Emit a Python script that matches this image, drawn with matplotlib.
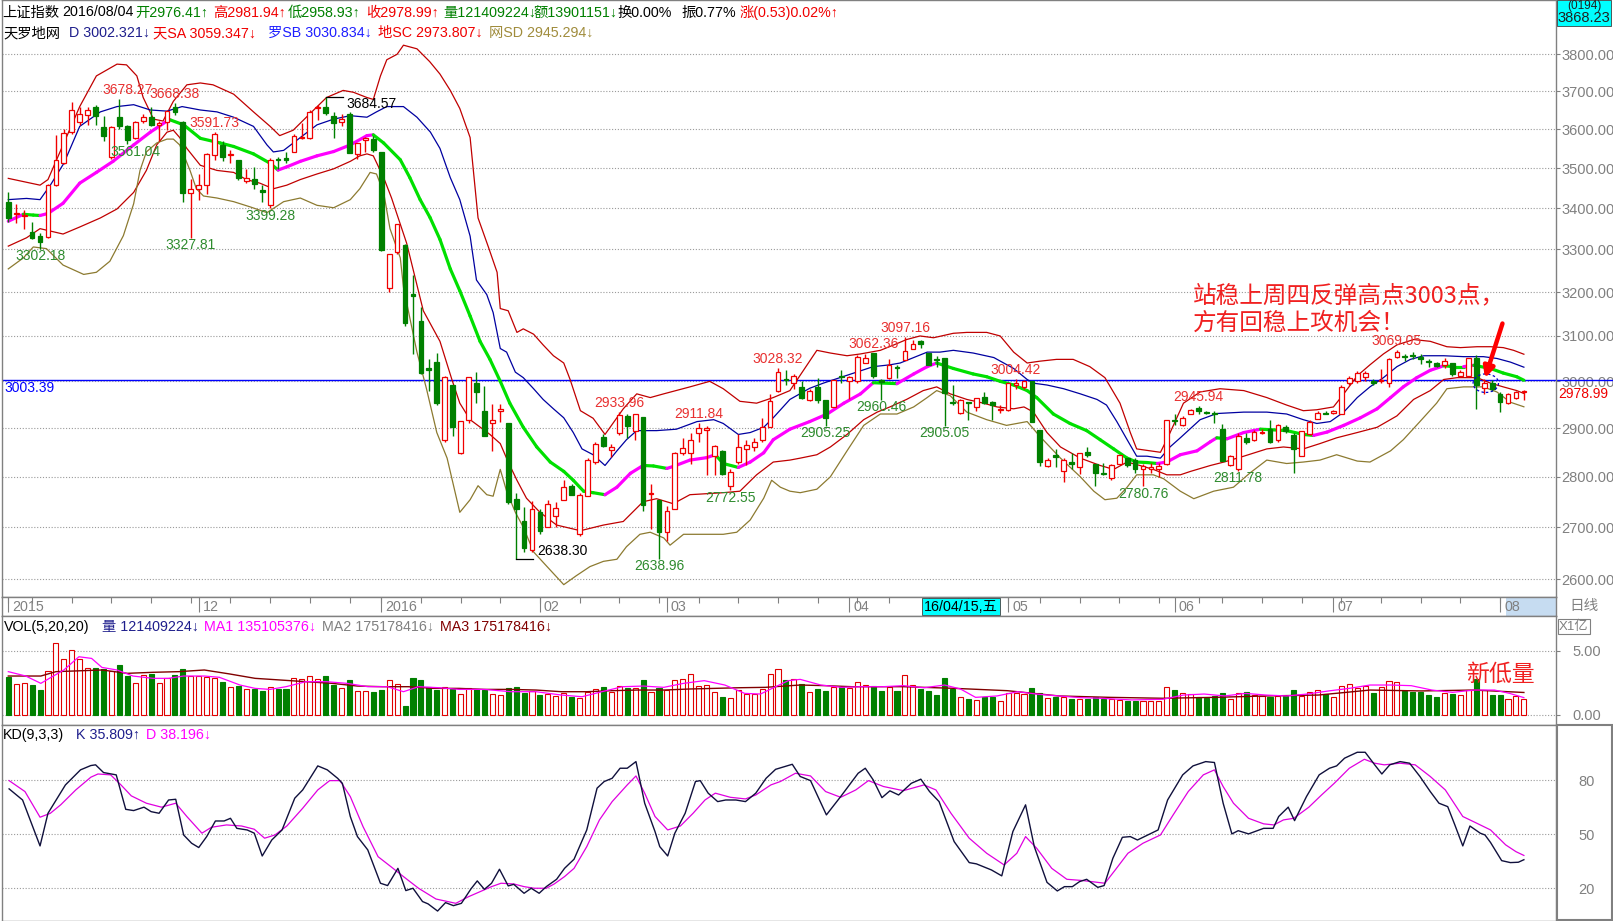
import matplotlib
matplotlib.use("Agg")
import matplotlib.pyplot as plt
from matplotlib.collections import LineCollection
from matplotlib.patches import Rectangle, Ellipse
from matplotlib.ticker import NullLocator
import numpy as np
import pandas as pd

plt.rcParams['font.family'] = ['Liberation Sans', 'Noto Sans CJK SC', 'DejaVu Sans']
CJK = ['Noto Sans CJK SC', 'DejaVu Sans']

# ---------------- data ----------------
holidays = ['2016-01-01', '2016-02-08', '2016-02-09', '2016-02-10', '2016-02-11',
            '2016-02-12', '2016-04-04', '2016-05-02', '2016-06-09', '2016-06-10']
trade_days = pd.bdate_range('2015-10-28', '2016-08-04')
trade_days = trade_days[~trade_days.isin(pd.to_datetime(holidays))]

opens = [3416, 3385, 3380, 3341, 3332, 3330, 3458, 3514, 3592, 3619, 3638, 3657, 3605, 3527, 3632, 3608,
         3577, 3622, 3632, 3611, 3618, 3659, 3618, 3438, 3448, 3457, 3532, 3559, 3533, 3521, 3467, 3472,
         3445, 3407, 3522, 3526, 3540, 3576, 3578, 3654, 3659, 3633, 3618, 3640, 3536, 3571, 3574, 3541,
         3209, 3293, 3310, 3196, 3134, 3028, 3042, 2876, 2991, 2849, 2918, 2996, 2936, 2912, 2936, 2910,
         2756, 2711, 2656, 2730, 2700, 2721, 2754, 2782, 2686, 2762, 2830, 2881, 2855, 2891, 2925, 2895,
         2923, 2765, 2754, 2690, 2735, 2849, 2849, 2891, 2897, 2843, 2852, 2782, 2830, 2856, 2861, 2876,
         2903, 2980, 3005, 2996, 2988, 2959, 2988, 2959, 2945, 3011, 3000, 3000, 3041, 3061, 3002, 3008,
         3032, 3047, 3072, 3088, 3062, 3049, 3052, 2956, 2933, 2955, 2945, 2967, 2955, 2939, 2938, 2991,
         2988, 3000, 2897, 2822, 2845, 2811, 2830, 2819, 2850, 2826, 2807, 2797, 2826, 2838, 2834, 2816,
         2816, 2816, 2826, 2918, 2906, 2930, 2942, 2934, 2932, 2898, 2824, 2815, 2880, 2876, 2889, 2898,
         2876, 2902, 2885, 2842, 2887, 2920, 2933, 2932, 2930, 2996, 3000, 3010, 3000, 3001, 2996, 3054,
         3055, 3058, 3053, 3045, 3040, 3036, 3040, 3012, 3012, 3052, 2986, 2996, 2973, 2953, 2965, 2976.41]
highs = [3440, 3410, 3395, 3367, 3340, 3460, 3585, 3600, 3672, 3657, 3657, 3662, 3633, 3607, 3678.27, 3610,
         3620, 3639, 3657, 3622, 3650, 3668.38, 3622, 3472, 3485, 3539, 3591.73, 3570, 3545, 3521, 3498, 3503,
         3457, 3525, 3528, 3540, 3588, 3617, 3650, 3662, 3684.57, 3645, 3640, 3645, 3564, 3580, 3583, 3541,
         3289, 3362, 3312, 3240, 3166, 3048, 3062, 3011, 2992, 2916, 3010, 3020, 2990, 2952, 2952, 2910,
         2768, 2739, 2752, 2735, 2753, 2749, 2793, 2786, 2768, 2838, 2872, 2887, 2868, 2933.96, 2929, 2930,
         2923, 2786, 2754, 2742, 2851, 2880, 2891, 2911.84, 2905, 2866, 2854, 2815, 2887, 2876, 2880, 2922,
         2973, 3028.32, 3024, 3016, 3000, 2984, 3008, 2959, 3002, 3024, 3012, 3057, 3059, 3062.36, 3004, 3048,
         3036, 3097.16, 3090, 3092, 3062, 3055, 3052, 2992, 2961, 2956, 2965, 2977, 2957, 2949, 2997, 3004.42,
         3002, 3000, 2897, 2839, 2857, 2838, 2849, 2849, 2860, 2826, 2829, 2826, 2845, 2838, 2838, 2826,
         2829, 2829, 2917, 2930, 2926, 2940, 2945.94, 2937, 2936, 2909, 2845, 2891, 2891, 2897, 2898, 2917,
         2908, 2906, 2891, 2895, 2918, 2937, 2937, 2939, 2992, 3012, 3022, 3022, 3004, 3026, 3052, 3069.05,
         3059, 3064, 3059, 3048, 3043, 3052, 3041, 3024, 3052, 3058, 3004, 3002, 2978, 2975, 2980, 2981.94]
lows = [3367, 3363, 3350, 3324, 3302.18, 3327, 3455, 3510, 3588, 3610, 3610, 3610, 3568, 3522, 3601, 3561.04,
        3574, 3615, 3607, 3570, 3597, 3636, 3416, 3327.81, 3421, 3434, 3520, 3517, 3512, 3471, 3463, 3448,
        3416, 3399.28, 3498, 3512, 3540, 3574, 3575, 3624, 3638, 3578, 3607, 3538, 3522, 3540, 3540, 3297,
        3200, 3290, 3122, 3060, 3017, 2980, 2950, 2872, 2883, 2846, 2910, 2953, 2884, 2853, 2914, 2746,
        2638.30, 2652, 2652, 2686, 2700, 2700, 2754, 2763, 2683, 2762, 2826, 2860, 2841, 2885, 2880, 2876,
        2732, 2697, 2638.96, 2673, 2735, 2845, 2826, 2872, 2804, 2803, 2804, 2772.55, 2826, 2823, 2853, 2872,
        2903, 2976, 2992, 2984, 2961, 2957, 2953, 2905.25, 2945, 2996, 2961, 2996, 3039, 3008, 2960.46, 3004,
        3008, 3047, 3070, 3074, 3036, 3032, 2905.05, 2949, 2930, 2918, 2937, 2952, 2918, 2933, 2937, 2984,
        2984, 2913, 2822, 2819, 2820, 2790, 2815, 2806, 2841, 2782, 2804, 2793, 2826, 2819, 2807, 2780.76,
        2807, 2800, 2824, 2907, 2904, 2929, 2929, 2929, 2911, 2833, 2822, 2811.78, 2868, 2874, 2887, 2870,
        2872, 2891, 2807, 2842, 2885, 2920, 2929, 2929, 2929, 2992, 2996, 3000, 2992, 2996, 2988, 3052,
        3045, 3048, 3038, 3032, 3032, 3030, 3012, 3010, 3010, 2941, 2973, 2980, 2934, 2952, 2961, 2958.93]
closes = [3376, 3389, 3384, 3328, 3319, 3458, 3521, 3591, 3651, 3640, 3650, 3633, 3583, 3606, 3608, 3571,
          3618, 3632, 3611, 3617, 3648, 3645, 3438, 3447, 3457, 3537, 3586, 3529, 3537, 3475, 3476, 3459,
          3439, 3521, 3520, 3521, 3583, 3580, 3645, 3659, 3643, 3616, 3627, 3538, 3564, 3576, 3545, 3299,
          3289, 3362, 3130, 3190, 3018, 3024, 2953, 3010, 2902, 2915, 3010, 2978, 2884, 2918, 2940, 2749,
          2736, 2659, 2735, 2693, 2746, 2737, 2780, 2764, 2764, 2834, 2867, 2864, 2860, 2927, 2904, 2930,
          2743, 2768, 2690, 2731, 2849, 2859, 2875, 2900, 2900, 2862, 2806, 2809, 2860, 2866, 2872, 2903,
          2957, 3020, 3002, 3012, 2965, 2980, 2959, 2921, 3002, 3009, 3009, 3053, 3051, 3011, 2999, 3035,
          3028, 3066, 3082, 3081, 3036, 3047, 2975, 2954, 2959, 2953, 2965, 2953, 2949, 2941, 2996, 2996,
          3000, 2914, 2831, 2834, 2841, 2834, 2826, 2849, 2845, 2807, 2806, 2824, 2845, 2823, 2816, 2822,
          2820, 2822, 2917, 2915, 2922, 2938, 2936, 2932, 2929, 2833, 2842, 2883, 2872, 2892, 2892, 2872,
          2906, 2895, 2857, 2895, 2914, 2932, 2931, 2937, 2988, 3008, 3018, 3018, 2996, 3002, 3049, 3064,
          3053, 3056, 3048, 3043, 3034, 3044, 3016, 3020, 3052, 2992, 2996, 2983, 2955, 2973, 2978, 2978.99]
# volume, unit 1e8 (x1亿)
volumes = [2.93, 2.38, 2.46, 2.33, 1.94, 3.42, 5.57, 4.35, 5.05, 4.35, 3.63, 3.65, 3.58, 3.45, 3.89, 3.03,
           2.46, 3.08, 3.19, 2.46, 2.85, 3.11, 3.58, 3.06, 3.06, 2.93, 2.85, 2.59, 2.15, 2.25, 1.99, 2.02,
           1.87, 2.15, 1.99, 1.99, 2.85, 2.77, 3.03, 2.77, 3.03, 2.33, 2.07, 2.72, 1.87, 1.87, 1.81, 1.94,
           2.72, 2.38, 0.70, 2.85, 2.72, 2.20, 1.94, 2.20, 2.02, 1.63, 2.12, 2.02, 1.94, 1.61, 1.55, 2.07,
           2.15, 1.68, 1.87, 1.55, 1.61, 1.48, 1.68, 1.37, 1.30, 1.81, 2.02, 2.20, 1.81, 2.28, 2.07, 2.07,
           2.72, 1.81, 2.12, 1.94, 2.72, 2.77, 3.16, 2.25, 2.33, 1.81, 1.42, 1.30, 1.94, 1.61, 1.61, 1.99,
           3.16, 3.55, 2.72, 2.77, 2.38, 1.76, 2.02, 1.87, 2.15, 2.15, 2.07, 2.54, 2.33, 2.28, 1.87, 2.20,
           1.87, 3.08, 2.33, 1.99, 1.87, 1.55, 2.85, 2.02, 1.37, 1.22, 1.17, 1.37, 1.37, 1.09, 1.68, 1.74,
           1.61, 2.07, 1.74, 1.30, 1.37, 1.42, 1.22, 1.22, 1.22, 1.42, 1.22, 1.22, 1.17, 1.09, 1.09, 1.09,
           1.09, 1.09, 2.15, 1.94, 1.74, 1.63, 1.37, 1.30, 1.48, 1.68, 1.22, 1.68, 1.81, 1.55, 1.50, 1.42,
           1.48, 1.48, 1.94, 1.48, 1.76, 1.94, 1.63, 1.37, 2.25, 2.41, 2.12, 2.28, 1.68, 2.20, 2.67, 2.59,
           1.87, 1.81, 1.81, 1.55, 1.42, 1.68, 1.63, 1.55, 1.94, 2.77, 1.94, 1.55, 1.55, 1.22, 1.48, 1.21]

# 天罗地网 lines at the given bar positions
sa_idx = [0, 4, 5, 6.9, 9, 11.1, 13.7, 14.9, 16.2, 17, 18.3, 19.5, 20.8, 22.5, 24.2, 25.8, 28.4, 30.9, 33,
          34.2, 35.9, 38, 40.1, 42.2, 43.5, 45.2, 46, 46.9, 47.7, 49, 49.8, 51.5, 53.1, 54.4, 55.7, 56.9,
          58.2, 59.2, 60.5, 61.6, 62, 63, 64.1, 64.9, 66.2, 67.4, 68.7, 70, 70.8, 72.1, 73.7, 75.2, 77.5,
          79.2, 80.9, 82.6, 85.9, 88.4, 90.1, 92.2, 94.3, 96.4, 98.5, 101.9, 103.6, 105.7, 107.4, 109.9,
          111.6, 113.2, 114.9, 116.6, 119.1, 120.8, 123.3, 125, 126.7, 128.4, 130, 132.1, 134.2, 136.3,
          138.2, 140.1, 141.4, 142.2, 145.2, 146.2, 148.1, 150.2, 152.7, 155.7, 158.6, 161.1, 163.2, 164.9,
          167, 168.3, 170, 171.6, 173.3, 175, 177.1, 179.2, 181.3, 183, 185.1, 186.8, 188.4, 189.7, 191]
sa_val = [3474, 3457, 3471, 3559, 3659, 3741, 3773, 3771, 3741, 3683, 3626, 3621, 3673, 3717, 3722, 3717,
          3692, 3645, 3607, 3583, 3597, 3640, 3683, 3702, 3697, 3683, 3678, 3741, 3785, 3800, 3825, 3815,
          3780, 3746, 3702, 3654, 3578, 3376, 3306, 3246, 3162, 3157, 3108, 3116, 3104, 3080, 3056, 3040,
          3004, 2937, 2921, 2887, 2941, 2973, 2965, 2973, 2988, 3000, 2984, 2957, 2953, 2965, 2980, 3068,
          3062, 3056, 3060, 3068, 3080, 3092, 3100, 3096, 3106, 3108, 3108, 3100, 3064, 3040, 3044, 3048,
          3048, 3032, 3008, 2953, 2891, 2857, 2850, 2883, 2953, 2977, 2984, 2980, 2965, 2949, 2937, 2939,
          2945, 2973, 3012, 3036, 3060, 3080, 3092, 3088, 3076, 3074, 3076, 3076, 3074, 3068, 3059.347]
sb_idx = [0, 2.3, 4, 5.3, 7, 9, 11.6, 13.7, 15.8, 17.9, 20, 21.9, 24.2, 26.3, 28.4, 30.9, 32.6, 33.4, 34.7,
          36.8, 38.9, 41, 43.1, 45.2, 46.4, 47.7, 49.8, 51.5, 53.2, 54.4, 55.7, 56.9, 58.2, 59, 60.3, 61.1,
          62, 62.8, 63.9, 64.9, 66.2, 67.4, 68.7, 70, 71.2, 72.3, 73.7, 75.2, 76.7, 77.9, 79.2, 81.7, 84.2,
          86.8, 88.9, 90.1, 92, 93.5, 95.2, 96.4, 98.5, 101, 102.7, 104.8, 106.9, 109, 111.1, 112.4, 114.1,
          115.8, 117.4, 119.1, 121.6, 124.2, 126.7, 128.4, 129.2, 130.9, 133, 135.1, 137.2, 138.4, 139.7,
          141, 142.2, 143.5, 145.2, 146.4, 147.7, 150.2, 152.3, 155.7, 158.6, 161.1, 163.2, 164.9, 166.6,
          168.3, 170, 171.6, 173.3, 175, 176.7, 178.4, 180.9, 183.4, 185.9, 187.6, 189.3, 191]
sb_val = [3421, 3424, 3421, 3457, 3512, 3607, 3645, 3659, 3664, 3650, 3647, 3659, 3650, 3645, 3631, 3607,
          3559, 3541, 3545, 3578, 3611, 3626, 3635, 3631, 3645, 3659, 3659, 3631, 3592, 3550, 3476, 3421,
          3332, 3228, 3194, 3153, 3072, 3064, 3020, 3008, 2984, 2961, 2941, 2922, 2891, 2857, 2845, 2823,
          2853, 2876, 2895, 2895, 2898, 2914, 2918, 2910, 2887, 2891, 2902, 2922, 2961, 2985, 2996, 3008,
          3020, 3032, 3036, 3040, 3052, 3064, 3064, 3068, 3062, 3052, 3028, 3004, 2996, 2992, 2984, 2973,
          2961, 2949, 2914, 2876, 2842, 2842, 2838, 2861, 2880, 2918, 2931, 2934, 2934, 2930, 2918, 2910,
          2914, 2934, 2965, 2988, 3008, 3032, 3048, 3056, 3056, 3054, 3054, 3050, 3042, 3030.834]
d_idx = [0, 1.9, 3.15, 4, 5, 6.9, 9, 11.1, 13.2, 15.8, 17.9, 20, 20.4, 22.1, 24.2, 26.7, 28.4, 30.9, 33,
         34, 35.1, 36.8, 38.9, 41, 43.1, 45.2, 46, 47.3, 49.4, 50.6, 51.9, 53.15, 54.4, 55.7, 56.9, 58.2,
         59.45, 60.7, 62, 63.2, 64.9, 66.6, 68.3, 70, 71.2, 72.5, 73.7, 75.2, 76.7, 78.4, 80, 81.3, 83,
         83.8, 85.9, 88, 89.1, 90.1, 92, 93.5, 95.2, 96.4, 98.5, 101, 103.2, 105.3, 107.4, 109, 112, 114.1,
         115.8, 117, 119.1, 121.6, 123.3, 125, 126.7, 128.4, 129.6, 131.7, 133.8, 135.9, 137.6, 139.3, 141,
         142.2, 143.5, 144.8, 146, 147.7, 149.8, 151.5, 152.3, 153.6, 155.7, 157.8, 159, 161.1, 163.2,
         164.5, 166.2, 168.3, 170.4, 172.5, 174.2, 175.8, 177.5, 179.2, 180.9, 182.1, 183.4, 184.7, 186.8,
         188.4, 190.1, 191]
d_val = [3368, 3385, 3383, 3382, 3387, 3412, 3462, 3489, 3517, 3559, 3592, 3621, 3624, 3611, 3576, 3564,
         3555, 3536, 3512, 3495, 3503, 3517, 3531, 3542, 3559, 3583, 3585, 3564, 3521, 3476, 3421, 3377,
         3324, 3254, 3203, 3145, 3088, 3048, 3000, 2953, 2902, 2861, 2830, 2811, 2793, 2771, 2768, 2764,
         2779, 2807, 2823, 2822, 2817, 2821, 2834, 2839, 2845, 2827, 2819, 2830, 2849, 2876, 2898, 2914,
         2930, 2953, 2973, 2997, 2995, 3016, 3032, 3040, 3028, 3016, 3010, 3000, 2992, 2980, 2965, 2930,
         2910, 2895, 2876, 2857, 2838, 2830, 2829, 2827, 2830, 2845, 2853, 2872, 2880, 2878, 2891, 2898,
         2897, 2895, 2887, 2885, 2892, 2906, 2922, 2941, 2965, 2988, 3008, 3024, 3034, 3032, 3032, 3035,
         3028, 3018, 3010, 3002.321]
sc_idx = [0, 2.3, 4, 6.9, 9, 11.6, 13.7, 15.8, 17.4, 18.7, 20, 20.8, 21.6, 22.5, 24.2, 26.3, 28.4, 30,
          31.7, 33.4, 35.1, 36.8, 38.9, 41, 43.1, 44.3, 45.2, 46, 47.3, 48.3, 50.2, 52.3, 54.4, 55.9, 56.9,
          58.2, 60.7, 62, 63, 64.1, 65.3, 67, 69.1, 72.1, 75, 77.5, 80, 81.7, 83.8, 85.9, 90.1, 92.2, 94.3,
          96.4, 98.5, 99.8, 101.9, 103.6, 105.7, 107.8, 109.5, 111.1, 113.2, 115.3, 117, 118.7, 120.8,
          122.9, 124.6, 126.7, 128, 129.2, 130.9, 132.6, 135.1, 137.6, 139.3, 141, 142.6, 144.3, 146, 147.7,
          149, 151.5, 153.2, 155.7, 158.6, 160.7, 163.2, 165.3, 167.4, 170, 172.5, 175, 177.1, 179.2,
          180.9, 182.6, 185.1, 186.8, 188.4, 190.1, 191]
sc_val = [3308, 3328, 3350, 3337, 3354, 3376, 3398, 3439, 3494, 3559, 3592, 3597, 3578, 3550, 3507, 3494,
          3489, 3471, 3462, 3448, 3457, 3471, 3485, 3498, 3517, 3531, 3536, 3531, 3476, 3425, 3315, 3157,
          3088, 3004, 2953, 2918, 2887, 2868, 2830, 2793, 2757, 2729, 2704, 2693, 2704, 2711, 2750, 2756,
          2746, 2764, 2768, 2771, 2804, 2830, 2834, 2838, 2845, 2861, 2887, 2918, 2934, 2945, 2961, 2980,
          2988, 2973, 2961, 2953, 2945, 2941, 2945, 2934, 2891, 2861, 2838, 2823, 2815, 2830, 2823, 2815,
          2804, 2804, 2811, 2823, 2830, 2842, 2857, 2861, 2857, 2868, 2880, 2891, 2902, 2926, 2961, 2980,
          3004, 3008, 3008, 2996, 2988, 2980, 2973.807]
sd_idx = [0, 1.9, 3.15, 4.8, 6.9, 9.5, 11.1, 12.8, 14.5, 15.8, 16.6, 17.4, 18.7, 20, 20.8, 21.6, 22.9,
          23.7, 24.6, 26.3, 28.4, 30.5, 32.6, 34.7, 36.8, 38.9, 41, 43.1, 44.3, 45.6, 46.4, 47.3, 48.1,
          49.4, 49.8, 51.5, 52.7, 54, 55.3, 56.9, 58.2, 59.2, 60.3, 61.1, 62, 62.8, 63.9, 64.9, 66.2, 67.9,
          70, 71.6, 73.3, 75, 76.7, 77.9, 79.6, 80.9, 82.6, 83.4, 85.1, 88, 90.1, 91.8, 93.5, 95.2, 96.2,
          97.3, 98.5, 99.8, 101.9, 103.6, 105.7, 107.8, 109.9, 112, 114.1, 115.8, 117, 118.7, 120.8, 123.3,
          125.8, 128.4, 130, 132.6, 135.1, 136.8, 138.2, 139.7, 141, 142.2, 144.3, 145.6, 147.7, 149.4,
          151.9, 154.4, 156.5, 158.6, 161.1, 163.2, 165.3, 167.4, 170, 171.6, 174.2, 175.8, 177.9, 180,
          181.3, 183.4, 185.9, 187.6, 189.3, 191]
sd_val = [3254, 3280, 3306, 3302, 3263, 3241, 3246, 3272, 3333, 3411, 3494, 3541, 3564, 3574, 3574, 3559,
          3494, 3448, 3430, 3425, 3416, 3403, 3389, 3416, 3425, 3407, 3401, 3421, 3448, 3489, 3485, 3439,
          3350, 3280, 3211, 3064, 2984, 2891, 2838, 2729, 2754, 2782, 2764, 2761, 2815, 2771, 2729, 2700,
          2652, 2624, 2590, 2607, 2624, 2634, 2638, 2662, 2686, 2690, 2679, 2665, 2686, 2686, 2686, 2690,
          2714, 2757, 2793, 2779, 2771, 2768, 2775, 2800, 2853, 2906, 2930, 2930, 2945, 2965, 2980, 2969,
          2934, 2918, 2906, 2914, 2883, 2838, 2800, 2771, 2754, 2757, 2779, 2804, 2804, 2796, 2771, 2756,
          2771, 2779, 2808, 2834, 2827, 2830, 2834, 2845, 2832, 2830, 2853, 2876, 2914, 2953, 2984, 2988,
          2988, 2977, 2955, 2945.294]

# volume moving averages (x1亿)
ma1_idx = [0, 2.2, 4.1, 5.4, 7, 8.9, 10.5, 11.8, 13.7, 15.7, 18.25, 20.2, 22.1, 24.7, 26.6, 29.2, 31.1, 33,
           35, 37.5, 40.1, 42.7, 45.3, 47.8, 49.8, 51.7, 54.3, 56.8, 60, 63.3, 66.5, 69.7, 72.3, 74.8, 77.4,
           80, 82.6, 85.1, 87.7, 90.3, 92.8, 94.8, 96.7, 98.3, 99.8, 102.4, 105, 107.6, 110.2, 112.8, 115.4,
           118, 120, 121.9, 124.6, 127.2, 129.8, 132.4, 135, 137.6, 141.6, 145.5, 148.1, 150.7, 153.3,
           155.9, 158.5, 161.1, 163.7, 166.4, 169, 171.6, 174.2, 176.8, 179.4, 182, 184.7, 187.3, 189.2, 191]
ma1_val = [3.37, 3.03, 2.46, 2.93, 3.50, 4.53, 4.40, 3.70, 3.50, 3.03, 2.85, 2.85, 3.03, 3.03, 2.93, 2.33,
           2.07, 1.99, 2.20, 2.59, 2.59, 2.46, 2.20, 2.20, 1.81, 2.20, 2.12, 1.99, 1.99, 1.81, 1.81, 1.55,
           1.42, 1.81, 2.20, 2.25, 2.15, 2.46, 2.67, 2.33, 1.68, 1.63, 2.20, 2.67, 2.77, 2.33, 2.15, 2.20,
           2.20, 2.28, 2.12, 2.33, 2.02, 1.37, 1.48, 1.81, 1.61, 1.48, 1.35, 1.30, 1.17, 1.22, 1.55, 1.63,
           1.48, 1.68, 1.55, 1.48, 1.63, 1.87, 2.07, 2.33, 2.33, 2.28, 1.94, 1.76, 1.94, 1.94, 1.68, 1.35]
ma3_idx = [0, 4.1, 6, 11.8, 15, 18.25, 21.5, 24.7, 27.9, 31.1, 34.3, 37.5, 40.8, 44, 47.2, 50.4, 53.6, 56.8,
           60, 63.3, 66.5, 69.7, 72.9, 76.1, 79.3, 82.6, 85.8, 89, 92.2, 95.4, 99.8, 103, 106.3, 112.8,
           119.3, 125.9, 132.4, 138.9, 145.5, 152, 158.5, 165.1, 171.6, 178.1, 184.7, 191]
ma3_val = [3.03, 3.03, 3.37, 3.50, 3.24, 3.32, 3.37, 3.50, 3.19, 2.85, 2.72, 2.59, 2.46, 2.25, 2.20, 2.20,
           2.07, 2.07, 1.99, 1.99, 1.94, 1.81, 1.81, 1.89, 1.94, 1.94, 2.02, 2.07, 2.12, 2.15, 2.33, 2.28,
           2.20, 2.20, 2.07, 1.89, 1.48, 1.37, 1.30, 1.37, 1.48, 1.55, 1.94, 1.87, 1.94, 1.75]

# KD(9,3,3)
k_idx = [0.1, 1.8, 4, 5, 5.9, 7.2, 9.1, 10.4, 11, 12, 13.6, 14.8, 15.8, 17.1, 18, 19, 20.2, 21.1, 22.1, 23.1,
         24, 25, 26.1, 27.2, 28, 28.8, 30.1, 31, 32, 33.2, 34.5, 36.1, 37.1, 39, 40.2, 41.5, 42.1, 43.1,
         44, 45.3, 46.9, 47.8, 49.1, 50.1, 51, 52.2, 52.9, 54.1, 55.1, 56.1, 57.1, 58.3, 59.1, 60, 60.9,
         61.9, 63, 63.7, 65, 65.9, 66.9, 67.8, 69.1, 70.1, 71.3, 72.9, 74.2, 75.1, 76.1, 77.1, 78, 79.1,
         80.2, 81.5, 82.1, 83.1, 84, 85.3, 86.6, 87.2, 88.2, 89.4, 90.4, 91.7, 92.9, 94.2, 95.5, 96.7,
         98.8, 99.8, 101.1, 103.1, 104.9, 107.1, 108, 109, 110.1, 111.1, 112.2, 113.8, 115, 116.1, 117.3,
         119.2, 121.1, 122, 123.9, 125.2, 126.6, 128.2, 129.3, 130.9, 132.2, 133.1, 134.1, 135, 135.9,
         137.3, 138.1, 139.2, 140.4, 141.4, 142.3, 143.6, 144.9, 146.1, 148, 149.3, 150.9, 152, 153.1,
         154.2, 155, 156.3, 158.2, 159.4, 160.1, 161.3, 162.1, 163.6, 165.2, 166.5, 167.4, 168.4, 170,
         171, 172.2, 173.1, 174.1, 175.4, 176.6, 177.9, 179.2, 180.3, 181.4, 182.3, 183.3, 184.2, 185.5,
         186.1, 186.8, 188.2, 189.3, 190.3, 191]
k_val = [75.3, 69.1, 43.5, 61.7, 68.2, 77.5, 85.9, 88.3, 88.7, 84.4, 83.1, 63.9, 63.2, 65.1, 62.6, 61.7,
         69.1, 69.5, 49.6, 45.0, 42.6, 48.7, 57.4, 57.4, 58.9, 53.3, 52.4, 50.6, 37.9, 46.8, 52.4, 70.1,
         74.7, 88.1, 85.9, 81.2, 78.4, 59.9, 48.7, 41.3, 22.7, 21.4, 31.0, 18.6, 19.9, 12.5, 11.2, 7.2,
         11.9, 10.2, 11.5, 19.5, 24.0, 19.3, 22.7, 30.5, 21.2, 22.1, 17.1, 19.9, 17.1, 20.8, 24.9, 31.0,
         36.1, 52.4, 75.7, 79.4, 81.2, 86.8, 86.8, 90.5, 67.3, 51.5, 43.1, 37.9, 50.6, 61.7, 79.4, 79.9,
         72.9, 68.2, 69.1, 69.1, 68.2, 72.9, 81.2, 86.2, 89.0, 82.2, 79.9, 60.8, 71.0, 84.0, 86.8, 80.3,
         70.4, 74.2, 71.9, 78.4, 80.7, 73.8, 68.2, 45.9, 34.2, 33.5, 30.1, 26.8, 51.5, 66.4, 43.1, 23.2,
         18.4, 20.8, 20.8, 23.6, 24.9, 20.4, 21.4, 36.6, 48.3, 48.7, 46.8, 49.6, 52.4, 69.1, 83.1, 88.1,
         90.5, 90.0, 67.3, 50.2, 52.0, 50.2, 53.3, 53.3, 59.9, 65.1, 57.6, 71.0, 83.1, 86.8, 88.1, 92.4,
         95.7, 95.7, 88.7, 83.6, 88.7, 90.5, 89.6, 82.2, 73.8, 67.3, 65.4, 55.2, 43.5, 54.6, 50.6, 49.6,
         45.4, 35.3, 34.2, 34.4, 35.809]
kd_d_idx = [0.1, 2.1, 4, 5.3, 6.6, 8.5, 10.4, 11.3, 12.9, 14.2, 15.5, 17.4, 19.3, 21.1, 22.5, 24.4, 25.6,
            27.5, 29.4, 31, 32.3, 33.6, 35.1, 37.1, 39, 40.5, 41.8, 43.1, 44.7, 46.6, 48.2, 49.8, 51.7,
            53.9, 56.4, 58, 59.3, 60.9, 62.1, 63.7, 65, 66.3, 67.8, 68.8, 70.1, 71.3, 72.9, 74.5, 76.1, 78,
            79.1, 80.2, 81.5, 83.1, 84.7, 86.3, 87.8, 89.1, 91, 92.9, 94.2, 96.1, 97.3, 99.2, 101.1, 103,
            104.9, 106.8, 108.4, 110.3, 112.8, 115.4, 116.9, 118.8, 121.1, 123.3, 125.5, 127.1, 128.2, 129.6,
            131.5, 133.4, 135.4, 138.2, 139.5, 141.1, 143, 145.2, 146.8, 148.7, 150.6, 152, 153.1, 154.4,
            156.3, 158.2, 159.5, 160.7, 162, 163.9, 165.5, 167.1, 169, 170.9, 172.2, 173.4, 175.4, 177.3,
            179.2, 181.1, 183.3, 184.9, 186.8, 188.7, 190, 191]
kd_d_val = [79.9, 73.8, 59.5, 61.7, 66.4, 74.7, 81.8, 83.6, 83.1, 77.5, 71.4, 67.3, 65.1, 67.3, 59.9, 50.6,
            53.9, 55.2, 54.6, 52.8, 47.8, 49.6, 54.6, 64.5, 74.7, 79.9, 79.9, 71.0, 54.3, 37.5, 32.0, 26.4,
            19.9, 13.9, 11.5, 15.2, 17.7, 20.8, 22.7, 22.3, 20.8, 19.9, 19.9, 22.3, 26.4, 31.0, 43.1, 58.0,
            68.2, 77.5, 82.5, 72.9, 59.9, 52.4, 54.6, 61.7, 69.1, 72.9, 70.6, 69.7, 71.9, 77.5, 79.4, 84.0,
            82.5, 73.8, 70.6, 74.7, 79.9, 76.6, 74.3, 77.5, 74.7, 61.7, 47.8, 39.4, 32.9, 39.4, 48.7, 42.2,
            31.0, 24.9, 24.2, 22.7, 30.1, 39.4, 45.0, 49.6, 60.8, 73.8, 83.1, 85.9, 76.6, 67.3, 58.9, 55.8,
            55.2, 58.0, 58.9, 65.1, 71.9, 78.4, 86.8, 91.8, 89.6, 88.7, 89.6, 88.7, 82.2, 74.7, 59.9, 56.5,
            52.4, 44.1, 40.3, 38.196]

# marked extremes: bar, high/low, horizontal shift (px)
extreme_marks = [(14, 'H', 8), (21, 'H', 0), (26, 'H', 0), (15, 'L', 8), (4, 'L', 0), (23, 'L', 0),
                 (33, 'L', 0), (77, 'H', 0), (87, 'H', 0), (91, 'L', 0), (82, 'L', 0), (97, 'H', 0),
                 (109, 'H', 0), (113, 'H', 0), (103, 'L', 0), (110, 'L', 0), (118, 'L', 0), (127, 'H', 0),
                 (143, 'L', 0), (150, 'H', 0), (155, 'L', 0), (175, 'H', 0)]
ref_level = 3003.39

# ---------------- styling ----------------
RED = '#F00000'
GREEN = '#008000'
GRAY = '#808080'
GRID = '#9A9A9A'
DOT = (0, (1, 1.6))
W, H = 1613, 921
X0, X1 = 2, 1556
BAR0, STEP = 8.3, 7.935     # pixel of bar 0, pixels per bar
XLIM = ((X0 - BAR0) / STEP, (X1 - BAR0) / STEP)

fig = plt.figure(figsize=(W / 100, H / 100), dpi=100)


def rect(x0, y0, x1, y1):
    return [x0 / W, 1 - y1 / H, (x1 - x0) / W, (y1 - y0) / H]


def ftext(x, y, s, **kw):
    kw.setdefault('fontsize', 10.3)
    kw.setdefault('va', 'center')
    kw.setdefault('ha', 'left')
    return fig.text(x / W, 1 - y / H, s, **kw)


ax = fig.add_axes(rect(X0, 0, X1, 597))
axd = fig.add_axes(rect(X0, 597, X1, 616), sharex=ax)
axv = fig.add_axes(rect(X0, 616, X1, 725), sharex=ax)
axk = fig.add_axes(rect(X0, 725, X1, 921), sharex=ax)
ax.set_xlim(*XLIM)
ax.set_xticks([])
for a in (ax, axd, axv, axk):
    a.tick_params(axis='x', which='both', length=0, labelbottom=False)
    for sp in a.spines.values():
        sp.set_color(GRAY)
        sp.set_linewidth(1)

idx = np.arange(len(closes))
o, h, l, c = (np.array(v, dtype=float) for v in (opens, highs, lows, closes))
vol = np.array(volumes)
up = c >= o

# ---- main price panel ----
ax.set_yscale('log')
ax.set_ylim(2567, 3952)
levels = list(range(2600, 3801, 100))
for p in levels:
    ax.axhline(p, color=GRID, lw=0.8, ls=DOT, zorder=0)
ax.yaxis.tick_right()
ax.set_yticks(levels)
ax.set_yticklabels([f'{p:.2f}' for p in levels])
ax.yaxis.set_minor_locator(NullLocator())
ax.tick_params(axis='y', which='major', direction='out', length=3, width=0.8, color=GRAY,
               labelcolor=GRAY, labelsize=10.5, pad=1)

ax.axhline(ref_level, color='#0000FF', lw=1, zorder=1)
ax.plot([XLIM[1], XLIM[1] + 7.3], [ref_level, ref_level], color='#0000FF', lw=1, clip_on=False)
ax.annotate(f'{ref_level:.2f}', xy=(0, ref_level), xycoords=('axes fraction', 'data'),
            xytext=(2, -8), textcoords='offset pixels', color='#0000FF', fontsize=10,
            va='center', ha='left')

ax.plot(sa_idx, sa_val, color='#C00000', lw=0.9, zorder=2)
ax.plot(sb_idx, sb_val, color='#0000A0', lw=0.9, zorder=2)
ax.plot(sc_idx, sc_val, color='#C00000', lw=0.9, zorder=2)
ax.plot(sd_idx, sd_val, color='#8C7A30', lw=0.9, zorder=2)
pts = np.column_stack([d_idx, d_val])
segs = np.stack([pts[:-1], pts[1:]], axis=1)
seg_cols = np.where(np.diff(d_val) > 0, '#FF00FF', '#00E000')
ax.add_collection(LineCollection(segs, colors=seg_cols, lw=2.3, zorder=2.5, capstyle='round'))

wick_cols = np.where(up, RED, GREEN)
ax.vlines(idx, l, h, colors=wick_cols, lw=1, zorder=3)
body_lo = np.minimum(o, c)
body_h = np.maximum(np.abs(c - o), 0.6)
ax.bar(idx[up], body_h[up], bottom=body_lo[up], width=0.6, facecolor='white',
       edgecolor=RED, lw=0.9, zorder=4)
ax.bar(idx[~up], body_h[~up], bottom=body_lo[~up], width=0.6, facecolor=GREEN,
       edgecolor=GREEN, lw=0.9, zorder=4)

for b, kind, dx in extreme_marks:
    if kind == 'H':
        ax.annotate(f'{h[b]:.2f}', xy=(b, h[b]), xytext=(dx, 9), textcoords='offset pixels',
                    color='#E83030', fontsize=10, ha='center', va='center', zorder=6)
    else:
        ax.annotate(f'{l[b]:.2f}', xy=(b, l[b]), xytext=(dx, -7.5), textcoords='offset pixels',
                    color='#2E8B2E', fontsize=10, ha='center', va='center', zorder=6)

top = int(np.argmax(h))
bot = int(np.argmin(l))
ax.plot([top, top + 2.2], [h[top], h[top]], color='black', lw=0.9, zorder=5)
ax.annotate(f'{h[top]:.2f}', xy=(top + 2.65, h[top]), xytext=(0, -7), textcoords='offset pixels',
            color='black', fontsize=10, ha='left', va='center', zorder=6)
ax.plot([bot, bot + 2.1], [l[bot], l[bot]], color='black', lw=0.9, zorder=5)
ax.annotate(f'{l[bot]:.2f}', xy=(bot + 2.6, l[bot]), xytext=(0, 8.5), textcoords='offset pixels',
            color='black', fontsize=10, ha='left', va='center', zorder=6)

# annotation: circle, arrow and comment
ax.add_patch(Ellipse((186.2, 2996), width=3.2, height=40, fill=False, edgecolor='#0000CC',
                     lw=0.9, ls=(0, (2, 2)), zorder=7))
ax.annotate('', xy=(186.1, 3007), xytext=(188.3, 3128),
            arrowprops=dict(arrowstyle='-|>', color='#FF0000', lw=3.2, mutation_scale=16,
                            shrinkA=0, shrinkB=0), zorder=8)
ax.text(149.3, 3191, '站稳上周四反弹高点3003点，', family=CJK, fontsize=17, color='#F02020',
        va='center', ha='left')
ax.text(149.3, 3129, '方有回稳上攻机会！', family=CJK, fontsize=17, color='#F02020',
        va='center', ha='left')

# ---- date band ----
axd.set_ylim(0, 1)
axd.set_yticks([])
days = pd.Series(trade_days)
wk = days.dt.strftime('%G-%V')
week_first = np.flatnonzero(wk.ne(wk.shift()).to_numpy())
mk = days.dt.strftime('%Y-%m')
month_first = np.flatnonzero(mk.ne(mk.shift()).to_numpy())
axd.add_patch(Rectangle((188.8, 0), XLIM[1] - 188.8, 1, facecolor='#C6DCF1', edgecolor='none'))
axd.vlines(week_first, 1 - 6 / 19, 1, color=GRAY, lw=0.8)
last = -99
for m in month_first:
    if m - last < 6:
        continue
    d = trade_days[m]
    lab = str(d.year) if (m == 0 or d.month == 1) else f'{d.month:02d}'
    axd.vlines(m, 0.2, 1, color=GRAY, lw=0.8)
    axd.text(m + 0.5, 0.47, lab, color=GRAY, fontsize=10.3, va='center', ha='left')
    last = m
axd.add_patch(Rectangle((115.1, 0.04), 9.9, 0.92, facecolor='#00FFFF', edgecolor='#404040',
                        lw=0.6, zorder=5))
axd.text(120.05, 0.47, '16/04/15,五', color='black', fontsize=10.3, va='center', ha='center', zorder=6)

# ---- volume panel ----
axv.set_ylim(-0.78, 7.70)
for v in (0, 5):
    axv.axhline(v, color=GRID, lw=0.8, ls=DOT, zorder=0)
axv.bar(idx[up], vol[up], width=0.64, facecolor='white', edgecolor='#E00000', lw=0.8, zorder=2)
axv.bar(idx[~up], vol[~up], width=0.64, facecolor=GREEN, edgecolor=GREEN, lw=0.8, zorder=2)
axv.plot(ma3_idx, ma3_val, color='#800000', lw=1.0, zorder=3)
axv.plot(ma1_idx, ma1_val, color='#FF00FF', lw=0.9, zorder=3)
axv.yaxis.tick_right()
axv.set_yticks([0, 5])
axv.set_yticklabels(['0.00', '5.00'])
axv.tick_params(axis='y', direction='out', length=3, width=0.8, color=GRAY, labelcolor=GRAY,
                labelsize=10.5, pad=9)
axv.text(183.7, 3.2, '新低量', family=CJK, fontsize=16.5, color='#F02020', va='center', ha='left')

# ---- KD panel ----
axk.set_ylim(1.65, 110.9)
for v in (20, 50, 80):
    axk.axhline(v, color=GRID, lw=0.8, ls=DOT, zorder=0)
axk.plot(kd_d_idx, kd_d_val, color='#E000E0', lw=0.9)
axk.plot(k_idx, k_val, color='#10103C', lw=1.0)
axk.yaxis.tick_right()
axk.set_yticks([20, 50, 80])
axk.tick_params(axis='y', length=0, labelcolor=GRAY, labelsize=10.5, pad=16)

# ---- header texts and right-hand extras ----
hdr1 = [('上证指数', 'black', 2.5), ('2016/08/04', 'black', 62), ('开2976.41↑', GREEN, 135),
        ('高2981.94↑', RED, 213), ('低2958.93↑', GREEN, 288), ('收2978.99↑', RED, 366),
        ('量121409224↓', GREEN, 443), ('额13901151↓', GREEN, 533), ('换0.00%', 'black', 617),
        ('振0.77%', 'black', 681), ('涨(0.53)0.02%↑', RED, 740)]
for s, col, x in hdr1:
    ftext(x, 12.5, s, color=col)
hdr2 = [('天罗地网', 'black', 3), ('D 3002.321↓', '#1E1E8C', 69), ('天SA 3059.347↓', RED, 153),
        ('罗SB 3030.834↓', '#1E1EFF', 268), ('地SC 2973.807↓', RED, 378), ('网SD 2945.294↓', '#A08C3C', 489)]
for s, col, x in hdr2:
    ftext(x, 33, s, color=col)
hdr3 = [('VOL(5,20,20)', 'black', 4), ('量 121409224↓', '#1E1E8C', 102), ('MA1 135105376↓', '#FF00FF', 204),
        ('MA2 175178416↓', GRAY, 322), ('MA3 175178416↓', '#800000', 440)]
for s, col, x in hdr3:
    ftext(x, 627, s, color=col)
hdr4 = [('KD(9,3,3)', 'black', 3), ('K 35.809↑', '#1E1E8C', 75.6), ('D 38.196↓', '#FF00FF', 146)]
for s, col, x in hdr4:
    ftext(x, 735, s, color=col)

fig.patches.append(Rectangle((1557 / W, 1 - 26 / H), 54 / W, 26 / H, transform=fig.transFigure,
                             facecolor='#00FFFF', edgecolor='#404040', lw=0.6))
ftext(1584, 6, '(0194)', ha='center', fontsize=8.5, color='#202020')
ftext(1584, 18.5, '3868.23', ha='center', fontsize=10.5, color='#202020')
ftext(1558, 394, '2978.99', fontsize=10, color='#F00000')
ftext(1584, 606, '日线', ha='center', fontsize=10.5, color=GRAY)
fig.patches.append(Rectangle((1558 / W, 1 - 634 / H), 32 / W, 15 / H, transform=fig.transFigure,
                             facecolor='white', edgecolor=GRAY, lw=0.8))
ftext(1574, 626.5, 'X1亿', ha='center', fontsize=9.5, color=GRAY)
fig.patches.append(Rectangle((1557 / W, 1 - 920 / H), 55 / W, 195 / H, transform=fig.transFigure,
                             facecolor='none', edgecolor=GRAY, lw=1.5))

fig.savefig('out.png', dpi=100, facecolor='white')
